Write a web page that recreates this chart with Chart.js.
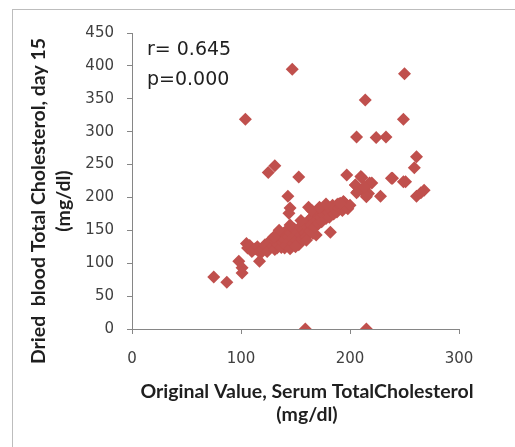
<!DOCTYPE html>
<html lang="en">

<head>
    <meta charset="UTF-8">
    <title>Cholesterol scatter</title>
    <script src="https://cdn.jsdelivr.net/npm/chart.js"></script>
    <style>
        body { margin: 0; background: #fff; overflow: hidden; }
        .wrap { position: relative; width: 515px; height: 447px; }
        .frame { position: absolute; left: 12px; top: 9px; width: 600px; height: 600px; border: 1px solid #bdbdbd; }
        canvas { position: absolute; left: 0; top: 0; }
    </style>
</head>

<body>
    <div class="wrap">
        <div class="frame"></div>
        <canvas id="myChart" width="515" height="447"></canvas>
    </div>

<script>
    // serum value (x) and dried blood value (y)
    var serum = [147, 250, 214, 104, 249, 206, 224, 233, 261, 259, 125, 131, 153, 197, 251, 239,
        210, 220, 205, 228, 261, 268, 265, 217, 207, 212, 143, 145, 144, 182, 197, 194, 188, 162, 169,
        75, 87, 98, 101, 101, 117, 118, 105, 106, 111, 128, 133, 140, 159, 215,
        108, 110, 113, 115, 118, 120, 122, 124, 126, 128, 129, 131, 132, 133, 134, 136, 137, 138, 139,
        140, 141, 142, 143, 144, 145, 146, 147, 148, 149, 150, 151, 152, 153, 154, 155, 156, 157, 158,
        159, 160, 161, 162, 163, 164, 165, 166, 167, 168, 169, 170, 171, 172, 173, 174, 175, 176, 178,
        179, 180, 181, 183, 184, 185, 186, 188, 189, 190, 192, 193, 195, 198, 200,
        211, 205, 218, 212, 206, 215, 238, 249, 191, 213,
        135, 130, 145, 150, 160, 165, 172, 178, 155];
    var dried = [395, 388, 348, 319, 319, 292, 291, 292, 262, 245, 238, 248, 231, 234, 224, 229,
        232, 222, 219, 202, 202, 211, 207, 206, 209, 209, 202, 184, 176, 147, 185, 194, 189, 185, 143,
        79, 71, 103, 93, 85, 103, 115, 130, 123, 120, 136, 123, 123, 0, 0,
        127, 118, 122, 125, 119, 121, 128, 118, 131, 136, 126, 121, 133, 141, 128, 138, 124, 132, 145,
        136, 127, 150, 140, 133, 122, 146, 138, 130, 152, 142, 135, 147, 128, 155, 143, 137, 150, 160,
        146, 140, 155, 165, 149, 158, 170, 145, 162, 155, 175, 166, 160, 178, 170, 163, 182, 174, 168,
        185, 177, 170, 180, 188, 175, 183, 178, 190, 184, 187, 180, 192, 183, 188,
        230, 219, 222, 212, 207, 201, 229, 224, 191, 216,
        150, 140, 158, 125, 135, 180, 185, 190, 165];

    var xTicks = [0, 100, 200, 300];
    var yTicks = [0, 50, 100, 150, 200, 250, 300, 350, 400, 450];

    var stats = ['r= 0.645', 'p=0.000'];
    var xTitle = ['Original Value, Serum TotalCholesterol', '(mg/dl)'];
    var yTitle = ['Dried  blood Total Cholesterol, day 15', '(mg/dl)'];

    var pontos = serum.map(function (v, i) { return { x: v, y: dried[i] }; });

    // titulos e texto r/p desenhados a mao
    const textos = {
        id: 'textos',
        afterDraw(chart) {
            const ctx = chart.ctx;
            const area = chart.chartArea;
            ctx.save();
            ctx.fillStyle = '#1f1f1f';
            ctx.font = '19px "DejaVu Sans"';
            ctx.textAlign = 'left';
            ctx.textBaseline = 'alphabetic';
            ctx.fillText(stats[0], area.left + 15, 55);
            ctx.fillText(stats[1], area.left + 15, 85);

            ctx.font = 'bold 19.5px Lato';
            ctx.textAlign = 'center';
            ctx.fillText(xTitle[0], 307, 398);
            ctx.fillText(xTitle[1], 307, 421);

            ctx.translate(45, 201);
            ctx.rotate(-Math.PI / 2);
            ctx.fillText(yTitle[0], 0, 0);
            ctx.fillText(yTitle[1], 0, 25);
            ctx.restore();
        }
    };

    new Chart(document.getElementById('myChart'), {
        type: 'scatter',
        data: {
            datasets: [{
                data: pontos,
                backgroundColor: 'rgb(192, 80, 77)',
                borderWidth: 0,
                pointStyle: 'rectRot',
                pointRadius: 6.5,
                pointHoverRadius: 6.5
            }]
        },
        options: {
            responsive: false,
            animation: false,
            events: [],
            layout: { padding: { left: 0, right: 56, top: 33, bottom: 0 } },
            plugins: { legend: { display: false }, tooltip: { enabled: false } },
            scales: {
                x: {
                    type: 'linear',
                    min: 0,
                    max: 300,
                    afterBuildTicks: function (s) { s.ticks = xTicks.map(function (v) { return { value: v }; }); },
                    afterFit: function (s) { s.height = 447 - 329; },
                    border: { color: '#868686', width: 1 },
                    grid: { drawOnChartArea: false, color: '#868686', tickLength: 5 },
                    ticks: { color: '#404040', font: { family: 'DejaVu Sans', size: 15 }, padding: 16, maxRotation: 0 }
                },
                y: {
                    type: 'linear',
                    min: 0,
                    max: 450,
                    afterBuildTicks: function (s) { s.ticks = yTicks.map(function (v) { return { value: v }; }); },
                    afterFit: function (s) { s.width = 132; },
                    border: { color: '#868686', width: 1 },
                    grid: { drawOnChartArea: false, color: '#868686', tickLength: 5 },
                    ticks: { color: '#404040', font: { family: 'DejaVu Sans', size: 15 }, padding: 13 }
                }
            }
        },
        plugins: [textos]
    });
</script>
</body>

</html>
